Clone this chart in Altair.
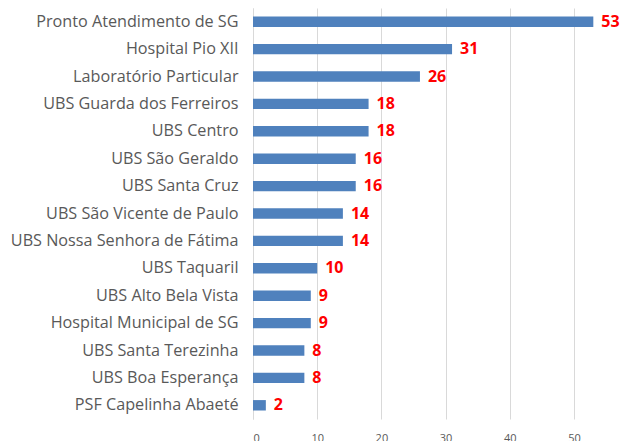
import altair as alt
import pandas as pd

categories = ["Pronto Atendimento de SG", "Hospital Pio XII", "Laboratório Particular",
              "UBS Guarda dos Ferreiros", "UBS Centro", "UBS São Geraldo", "UBS Santa Cruz",
              "UBS São Vicente de Paulo", "UBS Nossa Senhora de Fátima", "UBS Taquaril",
              "UBS Alto Bela Vista", "Hospital Municipal de SG", "UBS Santa Terezinha",
              "UBS Boa Esperança", "PSF Capelinha Abaeté"]
values = [53, 31, 26, 18, 18, 16, 16, 14, 14, 10, 9, 9, 8, 8, 2]
tick_values = [0, 10, 20, 30, 40, 50]

df = pd.DataFrame({"cat": categories, "val": values})

y = alt.Y("cat:N", sort=categories, title=None,
          scale=alt.Scale(paddingInner=0.62, paddingOuter=0.31),
          axis=alt.Axis(labelFont="Open Sans", labelFontSize=16.2, labelColor="#595959",
                        ticks=False, labelPadding=15, domainColor="#d9d9d9", grid=False,
                        labelLimit=400))
x = alt.X("val:Q", title=None, scale=alt.Scale(domain=[0, 57], nice=False),
          axis=alt.Axis(values=tick_values, labelFont="Open Sans", labelFontSize=11,
                        labelColor="#595959", ticks=False, domain=False,
                        gridColor="#d9d9d9", labelPadding=13))

bars = alt.Chart(df).mark_bar(color="#4f81bd").encode(x=x, y=y)
text = alt.Chart(df).mark_text(align="left", dx=8, color="#ff0000", fontWeight="bold",
                               font="Open Sans", fontSize=16).encode(
    x="val:Q", y=alt.Y("cat:N", sort=categories), text="val:Q")

chart = (bars + text).properties(width=366, height=411,
    autosize=alt.AutoSizeParams(type="none"),
    padding={"left": 253, "top": 8, "right": 2, "bottom": 22}
).configure_view(stroke=None)

chart.save("out.html", embed_options={"renderer": "svg", "actions": False})
